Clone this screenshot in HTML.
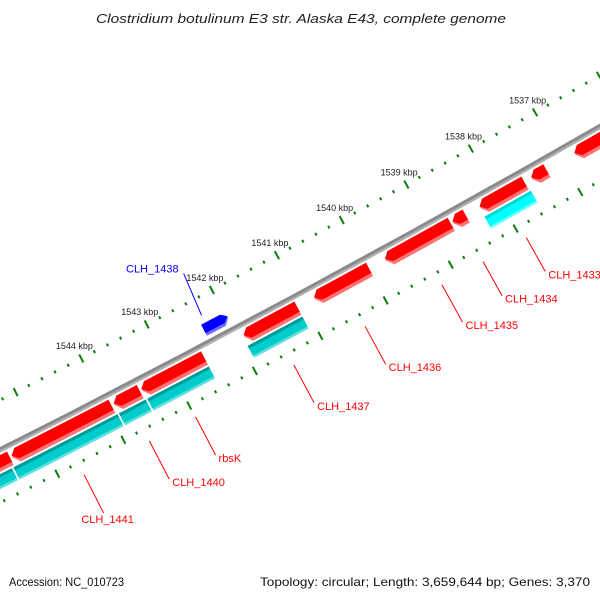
<!DOCTYPE html>
<html><head><meta charset="utf-8"><title>Clostridium botulinum E3 genome map</title>
<style>html,body{margin:0;padding:0;background:#fff;}svg{display:block;}</style></head>
<body>
<svg id="map" width="600" height="600" viewBox="0 0 600 600" xmlns="http://www.w3.org/2000/svg" font-family="'Liberation Sans', sans-serif">
<rect width="600" height="600" fill="#fff"/>
<text x="301" y="23" text-anchor="middle" font-size="13" font-style="italic" fill="#222" textLength="410" lengthAdjust="spacingAndGlyphs">Clostridium botulinum E3 str. Alaska E43, complete genome</text>
<g id="plot"></g>
<text x="9" y="586" font-size="12" fill="#111" textLength="115" lengthAdjust="spacingAndGlyphs">Accession: NC_010723</text>
<text x="590" y="586" text-anchor="end" font-size="12" fill="#111" textLength="330" lengthAdjust="spacingAndGlyphs">Topology: circular; Length: 3,659,644 bp; Genes: 3,370</text>
</svg>
<script>
// ---- data (kbp) ----
const forwardStarts = [1545.47, 1543.93, 1543.50, 1542.52, 1541.09, 1539.99, 1538.73, 1538.50, 1537.59, 1537.25, 1535.90];
const forwardEnds   = [1546.60, 1545.44, 1543.89, 1543.47, 1541.91, 1540.83, 1539.74, 1538.70, 1538.28, 1537.48, 1536.81];
const forwardLabels = ["", "CLH_1441", "CLH_1440", "rbsK", "CLH_1437", "CLH_1436", "CLH_1435", "CLH_1434", "CLH_1433", "", ""];
const reverseStarts = [1545.50, 1543.90, 1543.47, 1542.51, 1541.08, 1537.56];
const reverseEnds   = [1546.60, 1545.50, 1543.90, 1543.47, 1541.94, 1538.30];
const otherStarts = [1541.98];
const otherEnds   = [1542.35];
const otherLabels = ["CLH_1438"];
const majorTicks = [1535,1536,1537,1538,1539,1540,1541,1542,1543,1544,1545,1546,1547];
const tickLabels = ["1537 kbp","1538 kbp","1539 kbp","1540 kbp","1541 kbp","1542 kbp","1543 kbp","1544 kbp"];
const tickLabelValues = [1537,1538,1539,1540,1541,1542,1543,1544];

// ---- geometry ----
const CX = -5862, CY = -11142, R = 12990;
const PHI0 = Math.atan2(11440, 6162), K0 = 1541, DPHI = 74 / 12990;
function pt(k, off){ const p = PHI0 + (k - K0) * DPHI; return [CX + (R + off) * Math.cos(p), CY + (R + off) * Math.sin(p)]; }
function fmt(a){ return a[0].toFixed(2) + ',' + a[1].toFixed(2); }
const NS = 'http://www.w3.org/2000/svg';
const plot = document.getElementById('plot');
function mk(tag, attrs, parent){ const e = document.createElementNS(NS, tag); for (const k in attrs) e.setAttribute(k, attrs[k]); (parent || plot).appendChild(e); return e; }
function band(k1, k2, o1, o2, fill, nm){
  const pts = []; const n = 8;
  for (let i = 0; i <= n; i++) pts.push(fmt(pt(k1 + (k2 - k1) * i / n, o1)));
  for (let i = n; i >= 0; i--) pts.push(fmt(pt(k1 + (k2 - k1) * i / n, o2)));
  const e = mk('polygon', {points: pts.join(' '), fill: fill});
  
  
  return e;
}
function arrow(kLow, kHigh, o1, o2, fill, pointHigh, nm){
  const ah = Math.min(0.08, (kHigh - kLow) * 0.5);
  const mid = (o1 + o2) / 2; let pts = [];
  if (pointHigh) {
    const kb = kHigh - ah;
    pts = [pt(kLow, o1), pt((kLow + kb) / 2, o1), pt(kb, o1), pt(kHigh, mid), pt(kb, o2), pt((kLow + kb) / 2, o2), pt(kLow, o2)];
  } else {
    const kb = kLow + ah;
    pts = [pt(kHigh, o1), pt((kHigh + kb) / 2, o1), pt(kb, o1), pt(kLow, mid), pt(kb, o2), pt((kHigh + kb) / 2, o2), pt(kHigh, o2)];
  }
  const e = mk('polygon', {points: pts.map(fmt).join(' '), fill: fill});
  
  
  return e;
}

// ticks
const OUT = -44.6, INN = 47;
for (let k = 1534; k <= 1548.001; k += 0.2) {
  const kk = Math.round(k * 10) / 10;
  const isMajor = majorTicks.indexOf(Math.round(kk)) >= 0 && Math.abs(kk - Math.round(kk)) < 0.01;
  const L = isMajor ? 4.5 : 1.5;
  [OUT, INN].forEach(function(r){
    const a = pt(kk, r - L), b = pt(kk, r + L);
    const t = mk('line', {x1: a[0], y1: a[1], x2: b[0], y2: b[1], stroke: '#0a7d0a', 'stroke-width': 2});
    
    
  });
}
tickLabelValues.forEach(function(k, i){
  const p = pt(k, OUT - 15);
  const t = mk('text', {x: p[0], y: p[1] + 4, 'text-anchor': 'middle', 'font-size': 9, fill: '#222'});
  t.textContent = tickLabels[i];
  
  
});

// backbone
band(1534, 1548, -2.6, 0.6, '#8a8a8a', 'backbone');
band(1534, 1548, 0.6, 2.6, '#b0b0b0', 'backbone-highlight');

// forward (red) genes
forwardStarts.forEach(function(s, i){
  const e = forwardEnds[i];
  arrow(s, e, 4.5, 19.5, '#ff7272', true, 'gene-shadow');
  arrow(s, e, 4.5, 16, '#ff0000', true, 'forward-gene');
});
// reverse (cyan) track
reverseStarts.forEach(function(s, i){
  const e = reverseEnds[i];
  const bright = i === reverseStarts.length - 1;
  band(s + 0.012, e - 0.012, 21.5, 35, bright ? '#66ffff' : '#5fe0e0', 'reverse-feature-shadow');
  band(s + 0.012, e - 0.012, 21.5, 32.5, bright ? '#00ffff' : '#00cccc', 'reverse-feature');
  band(s + 0.012, e - 0.012, 21.5, 24.5, bright ? '#00d8d8' : '#009a9a', 'reverse-feature-edge');
});
// other (blue)
otherStarts.forEach(function(s, i){
  const e = otherEnds[i];
  arrow(s, e, -19, -6.5, '#6b6bff', false, 'blue-gene-shadow');
  arrow(s, e, -19, -9.5, '#0000ff', false, 'blue-gene');
  const a = pt((s + e) / 2 + 0.12, -27);
  const b = [a[0] - 18, a[1] - 42];
  const ln = mk('line', {x1: a[0], y1: a[1], x2: b[0], y2: b[1], stroke: '#0000ff', 'stroke-width': 1});
  
  
  const t = mk('text', {x: b[0] - 5, y: b[1] - 1, 'text-anchor': 'end', 'font-size': 11, fill: '#0000ff'});
  t.textContent = otherLabels[i];
  
  
});

// labels for forward genes
forwardLabels.forEach(function(lab, i){
  if (!lab) return;
  const m = (forwardStarts[i] + forwardEnds[i]) / 2;
  const a = pt(m, 60), b = pt(m, i <= 6 ? 103 : 99);
  const ln = mk('line', {x1: a[0], y1: a[1], x2: b[0], y2: b[1], stroke: '#ff0000', 'stroke-width': 1});
  
  
  let t;
  if (i === 1) t = mk('text', {x: b[0] + 4, y: b[1] + 10, 'text-anchor': 'middle', 'font-size': 11, fill: '#ff0000'});
  else t = mk('text', {x: b[0] + 3, y: b[1] + 7, 'font-size': 11, fill: '#ff0000'});
  t.textContent = lab;
  
  
});
</script>
</body></html>
